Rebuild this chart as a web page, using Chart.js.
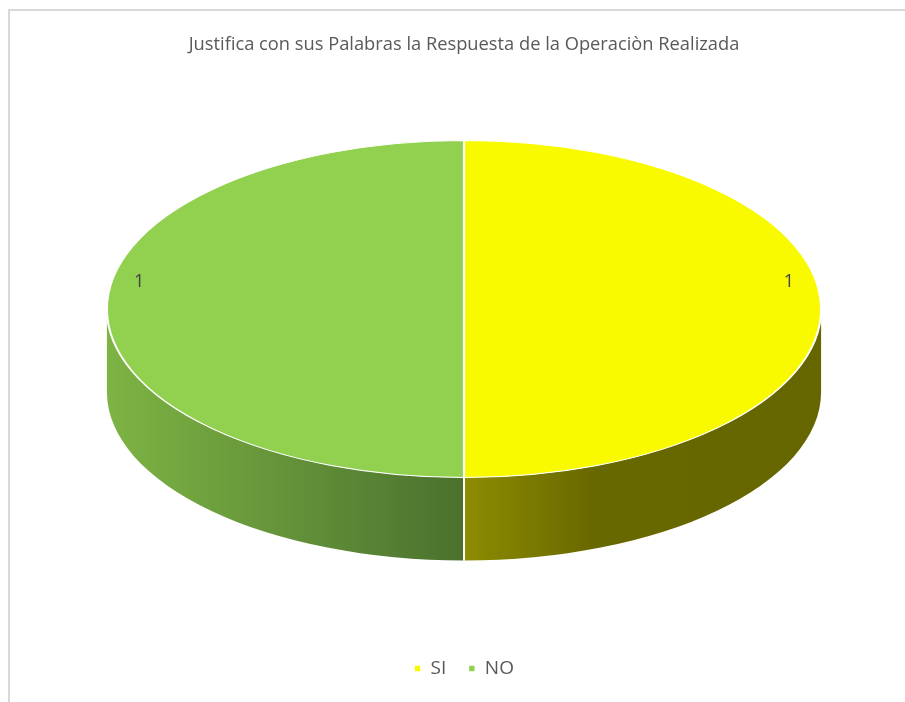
<!DOCTYPE html>
<html>

<head>
    <meta charset="utf-8">
    <title>Justifica con sus Palabras la Respuesta de la Operaciòn Realizada</title>

    <style>
        html,
        body {
            margin: 0;
            padding: 0;
            background-color: #fff;
            overflow: hidden;
        }

        #frame {
            position: absolute;
            left: 8px;
            top: 9px;
            width: 908px;
            height: 720px;
            border: 2px solid #d9d9d9;
            background-color: #fff;
        }
    </style>
</head>

<body>
    <div id="frame">
        <canvas id="chart" width="908" height="720"></canvas>
    </div>
    <script src="https://cdn.jsdelivr.net/npm/chart.js"></script>
    <script>
        const chartTitle = 'Justifica con sus Palabras la Respuesta de la Operaciòn Realizada';
        const labels = ['SI', 'NO'];
        const values = [1, 1];
        const topColors = ['#f9f900', '#92d050'];

        // side wall shading, offsets across the whole ellipse width (0 = left edge, 1 = right edge)
        const sideStops = [
            [[0.5, '#8e8c00'], [0.68, '#686800'], [1, '#666600']],
            [[0, '#7db444'], [0.5, '#4b712e']],
        ];

        const font = '"Open Sans", sans-serif';

        // ellipse proportions relative to the pie radius chart.js computes
        const RX = 1.25;
        const RY = 0.59;
        const DEPTH = 0.29;

        const ellipseOf = (chart) => {
            const arc = chart.getDatasetMeta(0).data[0];
            const r = arc.outerRadius;
            const depth = r * DEPTH;
            return {
                arc,
                r,
                cx: arc.x,
                cy: arc.y - depth / 2,
                rx: r * RX,
                ry: r * RY,
                depth,
            };
        };

        const pie3d = {
            id: 'pie3d',
            beforeDatasetsDraw(chart) {
                const ctx = chart.ctx;
                const e = ellipseOf(chart);
                const meta = chart.getDatasetMeta(0);

                // front side walls
                meta.data.forEach((el, i) => {
                    const a0 = Math.max(el.startAngle, 0);
                    const a1 = Math.min(el.endAngle, Math.PI);
                    if (a1 <= a0) return;

                    const grad = ctx.createLinearGradient(e.cx - e.rx, 0, e.cx + e.rx, 0);
                    sideStops[i].forEach(([o, c]) => grad.addColorStop(o, c));

                    ctx.save();
                    ctx.beginPath();
                    ctx.ellipse(e.cx, e.cy, e.rx, e.ry, 0, a0, a1, false);
                    ctx.ellipse(e.cx, e.cy + e.depth, e.rx, e.ry, 0, a1, a0, true);
                    ctx.closePath();
                    ctx.fillStyle = grad;
                    ctx.fill();
                    ctx.restore();
                });

                // white seams between slices on the side
                meta.data.forEach((el) => {
                    [el.startAngle, el.endAngle].forEach((a) => {
                        const n = ((a % (2 * Math.PI)) + 2 * Math.PI) % (2 * Math.PI);
                        if (n <= 0.01 || n >= Math.PI - 0.01) return;
                        const x = e.cx + Math.cos(n) * e.rx;
                        const y = e.cy + Math.sin(n) * e.ry;
                        ctx.save();
                        ctx.strokeStyle = '#fff';
                        ctx.lineWidth = 2;
                        ctx.beginPath();
                        ctx.moveTo(x, y);
                        ctx.lineTo(x, y + e.depth);
                        ctx.stroke();
                        ctx.restore();
                    });
                });

                // squash the flat pie into the top face
                ctx.save();
                ctx.translate(e.cx, e.cy);
                ctx.scale(e.rx / e.r, e.ry / e.r);
                ctx.translate(-e.arc.x, -e.arc.y);
            },
            afterDatasetsDraw(chart) {
                const ctx = chart.ctx;
                ctx.restore();

                const e = ellipseOf(chart);
                const meta = chart.getDatasetMeta(0);
                ctx.save();
                ctx.font = '18px ' + font;
                ctx.fillStyle = '#404040';
                ctx.textAlign = 'center';
                ctx.textBaseline = 'middle';
                meta.data.forEach((el, i) => {
                    const mid = (el.startAngle + el.endAngle) / 2;
                    const x = e.cx + Math.cos(mid) * 0.91 * e.rx;
                    const y = e.cy + Math.sin(mid) * 0.91 * e.ry - 0.16 * e.ry;
                    ctx.fillText(String(values[i]), x, y);
                });
                ctx.restore();
            },
        };

        new Chart(document.getElementById('chart'), {
            type: 'pie',
            data: {
                labels,
                datasets: [{
                    data: values,
                    backgroundColor: topColors,
                    borderColor: '#fff',
                    borderWidth: 1.7,
                }]
            },
            options: {
                responsive: false,
                animation: false,
                events: [],
                layout: {
                    padding: { bottom: 43 }
                },
                plugins: {
                    title: {
                        display: true,
                        text: chartTitle,
                        color: '#595959',
                        font: { family: font, size: 18.3, weight: 'normal' },
                        padding: { top: 23, bottom: 8 },
                    },
                    legend: {
                        position: 'bottom',
                        labels: {
                            boxWidth: 7,
                            boxHeight: 7,
                            padding: 22,
                            color: '#595959',
                            font: { family: font, size: 19 },
                        }
                    },
                    tooltip: { enabled: false },
                }
            },
            plugins: [pie3d],
        });
    </script>
</body>

</html>
